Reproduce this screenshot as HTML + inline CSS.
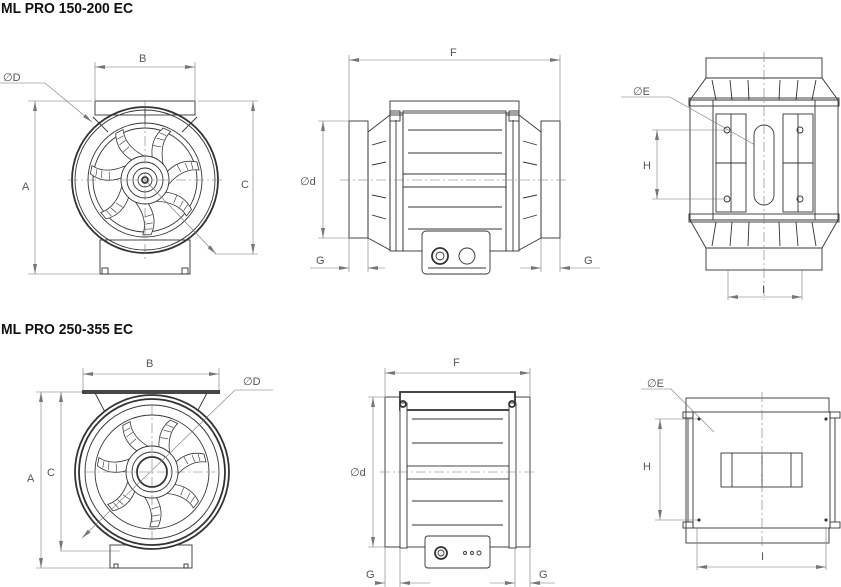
<!DOCTYPE html>
<html><head><meta charset="utf-8"><style>
html,body{margin:0;padding:0;background:#fff;}
svg{display:block;}
text{font-family:"Liberation Sans",sans-serif;fill:#555;font-size:11px;}
.h{font-family:"Liberation Sans Narrow","Liberation Sans",sans-serif;font-weight:bold;fill:#111;font-size:15px;}
.s{fill:none;stroke:#333;stroke-width:0.9;}
.t{fill:none;stroke:#333;stroke-width:1.8;}
.d{fill:none;stroke:#777;stroke-width:0.6;}
.c{fill:none;stroke:#777;stroke-width:0.6;stroke-dasharray:10 3 2 3;}
</style></head><body>
<svg width="841" height="587" viewBox="0 0 841 587" xmlns="http://www.w3.org/2000/svg">
<defs>
<marker id="a" markerWidth="10" markerHeight="6" refX="10" refY="3" orient="auto-start-reverse" markerUnits="userSpaceOnUse"><path d="M0,1 L10,3 L0,5 Z" fill="#777"/></marker>
<g id="blade"><path d="M20,-6 Q34,-22 52,-18 L54,-10 Q38,-12 24,4 Z" fill="#fff" stroke="#333" stroke-width="0.8"/><path d="M32,-15 L36,-8 M40,-17 L43,-10 M46,-18 L48,-11" stroke="#333" stroke-width="0.6"/></g>
</defs>
<text class="h" x="1" y="13" textLength="132" lengthAdjust="spacingAndGlyphs">ML PRO 150-200 EC</text>
<text class="h" x="1" y="334" textLength="132" lengthAdjust="spacingAndGlyphs">ML PRO 250-355 EC</text>

<!-- ===== TOP LEFT ===== -->
<g>
<rect class="s" x="95" y="101" width="100" height="14"/>
<rect class="s" x="100" y="240" width="90" height="34"/>
<rect class="s" x="102" y="268" width="6" height="6"/><rect class="s" x="182" y="268" width="6" height="6"/>
<circle class="t" cx="145" cy="180" r="73"/>
<circle class="s" cx="145" cy="180" r="70"/>
<circle class="s" cx="145" cy="180" r="57"/>
<circle class="s" cx="145" cy="180" r="52"/>
<g transform="translate(145,180)">
<use href="#blade"/><use href="#blade" transform="rotate(51.4)"/><use href="#blade" transform="rotate(102.8)"/><use href="#blade" transform="rotate(154.2)"/><use href="#blade" transform="rotate(205.6)"/><use href="#blade" transform="rotate(257)"/><use href="#blade" transform="rotate(308.4)"/>
</g>
<circle class="s" cx="145" cy="180" r="24" style="fill:#fff"/>
<circle class="s" cx="145" cy="180" r="18"/><circle class="s" cx="145" cy="180" r="12"/><circle class="s" cx="145" cy="180" r="7"/><circle class="t" cx="145" cy="180" r="3"/>
<line class="s" x1="93" y1="117" x2="108" y2="132"/><line class="s" x1="197" y1="117" x2="182" y2="132"/>
<line class="s" x1="145" y1="107" x2="145" y2="125"/>
<line class="c" x1="68" y1="180" x2="222" y2="180"/><line class="c" x1="145" y1="100" x2="145" y2="260"/>
<line class="d" x1="95" y1="62" x2="95" y2="100"/><line class="d" x1="195" y1="62" x2="195" y2="100"/>
<line class="d" x1="95" y1="67" x2="195" y2="67" marker-start="url(#a)" marker-end="url(#a)"/>
<text x="139" y="62">B</text>
<line class="d" x1="28" y1="101" x2="92" y2="101"/><line class="d" x1="28" y1="274" x2="100" y2="274"/>
<line class="d" x1="35" y1="101" x2="35" y2="274" marker-start="url(#a)" marker-end="url(#a)"/>
<text x="22" y="190">A</text>
<line class="d" x1="198" y1="101" x2="258" y2="101"/><line class="d" x1="215" y1="254" x2="258" y2="254"/>
<line class="d" x1="253" y1="101" x2="253" y2="254" marker-start="url(#a)" marker-end="url(#a)"/>
<text x="241" y="188">C</text>
<text x="3" y="81">∅D</text>
<polyline class="d" points="0,83 45,83 92,122" marker-end="url(#a)"/>
<line class="d" x1="145" y1="180" x2="216" y2="254" marker-end="url(#a)"/>
</g>

<!-- ===== TOP MIDDLE ===== -->
<g>
<rect class="s" x="349" y="121" width="19" height="117"/>
<rect class="s" x="541" y="121" width="19" height="117"/>
<polygon class="s" points="368,132 390,115 390,250 368,238"/>
<polygon class="s" points="541,132 519,115 519,250 541,238"/>
<rect class="s" x="390" y="101" width="129" height="12"/>
<rect class="s" x="403" y="111" width="103" height="140"/>
<rect class="s" x="390" y="115" width="13" height="136"/><rect class="s" x="506" y="115" width="13" height="136"/>
<line class="s" x1="396" y1="120" x2="396" y2="251"/><line class="s" x1="513" y1="120" x2="513" y2="251"/>
<line class="s" x1="408" y1="130" x2="502" y2="130"/><line class="s" x1="408" y1="153" x2="502" y2="153"/>
<line class="s" x1="403" y1="174" x2="506" y2="174"/><line class="s" x1="403" y1="187" x2="506" y2="187"/>
<line class="s" x1="408" y1="207" x2="502" y2="207"/><line class="s" x1="408" y1="229" x2="502" y2="229"/>
<path class="s" d="M372,145 l14,-4 M372,165 l14,-3 M372,195 l14,3 M372,215 l14,4 M523,141 l14,4 M523,162 l14,3 M523,198 l14,-3 M523,219 l14,-4"/>
<rect class="s" x="422" y="231" width="68" height="43" rx="4" style="fill:#fff"/>
<circle class="t" cx="440" cy="256" r="8"/><circle class="s" cx="440" cy="256" r="4"/>
<circle class="s" cx="467" cy="256" r="8"/>
<line class="s" x1="428" y1="268" x2="486" y2="268"/>
<rect class="s" x="390" y="111" width="10" height="10"/><rect class="s" x="509" y="111" width="10" height="10"/>
<line class="c" x1="340" y1="180" x2="568" y2="180"/>
<line class="d" x1="349" y1="55" x2="349" y2="121"/><line class="d" x1="560" y1="55" x2="560" y2="121"/>
<line class="d" x1="349" y1="60" x2="560" y2="60" marker-start="url(#a)" marker-end="url(#a)"/>
<text x="450" y="56">F</text>
<line class="d" x1="318" y1="121" x2="349" y2="121"/><line class="d" x1="318" y1="238" x2="349" y2="238"/>
<line class="d" x1="323" y1="121" x2="323" y2="238" marker-start="url(#a)" marker-end="url(#a)"/>
<text x="300" y="185">∅d</text>
<line class="d" x1="349" y1="238" x2="349" y2="272"/><line class="d" x1="368" y1="238" x2="368" y2="272"/>
<line class="d" x1="310" y1="268" x2="349" y2="268" marker-end="url(#a)"/><line class="d" x1="385" y1="268" x2="368" y2="268" marker-end="url(#a)"/>
<text x="316" y="264">G</text>
<line class="d" x1="541" y1="238" x2="541" y2="272"/><line class="d" x1="560" y1="238" x2="560" y2="272"/>
<line class="d" x1="520" y1="268" x2="541" y2="268" marker-end="url(#a)"/><line class="d" x1="600" y1="268" x2="560" y2="268" marker-end="url(#a)"/>
<text x="584" y="264">G</text>
</g>

<!-- ===== TOP RIGHT ===== -->
<g>
<rect class="s" x="706" y="58" width="116" height="20"/>
<rect class="s" x="706" y="248" width="116" height="22"/>
<polygon class="s" points="706,78 822,78 838,100 690,100"/>
<polygon class="s" points="690,220 838,220 822,248 706,248"/>
<rect class="s" x="690" y="100" width="148" height="120"/>
<rect class="s" x="689" y="98" width="150" height="8"/><rect class="s" x="689" y="214" width="150" height="8"/>
<rect class="s" x="713" y="100" width="102" height="120"/>
<rect class="s" x="716" y="114" width="30" height="98"/><rect class="s" x="783" y="114" width="30" height="98"/>
<line class="s" x1="731" y1="114" x2="731" y2="212"/><line class="s" x1="798" y1="114" x2="798" y2="212"/>
<line class="s" x1="716" y1="163" x2="746" y2="163"/><line class="s" x1="783" y1="163" x2="813" y2="163"/>
<rect class="s" x="754" y="125" width="20" height="80" rx="10"/>
<circle class="s" cx="727" cy="130" r="3"/><circle class="s" cx="800" cy="130" r="3"/><circle class="s" cx="727" cy="199" r="3"/><circle class="s" cx="800" cy="199" r="3"/>
<path class="s" d="M712,80 l4,20 M730,80 l2,20 M748,80 l1,20 M780,80 l-1,20 M798,80 l-2,20 M816,80 l-4,20 M712,246 l4,-24 M730,246 l2,-24 M748,246 l1,-24 M780,246 l-1,-24 M798,246 l-2,-24 M816,246 l-4,-24"/>
<line class="c" x1="764" y1="52" x2="764" y2="300"/>
<text x="633" y="95">∅E</text>
<polyline class="d" points="621,97 670,97 755,145"/>
<line class="d" x1="652" y1="130" x2="727" y2="130"/><line class="d" x1="652" y1="199" x2="727" y2="199"/>
<line class="d" x1="657" y1="130" x2="657" y2="199" marker-start="url(#a)" marker-end="url(#a)"/>
<text x="643" y="169">H</text>
<line class="d" x1="728" y1="270" x2="728" y2="300"/><line class="d" x1="802" y1="270" x2="802" y2="300"/>
<line class="d" x1="728" y1="297" x2="802" y2="297" marker-start="url(#a)" marker-end="url(#a)"/>
<text x="762" y="293">I</text>
</g>

<!-- ===== BOTTOM LEFT ===== -->
<g>
<rect class="t" x="83" y="391" width="136" height="2"/>
<line class="s" x1="95" y1="393" x2="105" y2="412"/><line class="s" x1="207" y1="393" x2="197" y2="412"/>
<rect class="s" x="110" y="545" width="82" height="23"/>
<rect class="s" x="114" y="564" width="4" height="4"/><rect class="s" x="184" y="564" width="4" height="4"/>
<circle class="t" cx="152" cy="472" r="77" style="fill:#fff"/>
<circle class="t" cx="152" cy="472" r="73"/>
<circle class="s" cx="152" cy="472" r="67"/>
<circle class="s" cx="152" cy="472" r="57"/>
<g transform="translate(152,472)">
<use href="#blade"/><use href="#blade" transform="rotate(51.4)"/><use href="#blade" transform="rotate(102.8)"/><use href="#blade" transform="rotate(154.2)"/><use href="#blade" transform="rotate(205.6)"/><use href="#blade" transform="rotate(257)"/><use href="#blade" transform="rotate(308.4)"/>
</g>
<circle class="s" cx="152" cy="472" r="26" style="fill:#fff"/>
<circle class="s" cx="152" cy="472" r="20"/><circle class="t" cx="152" cy="472" r="15"/>
<line class="c" x1="85" y1="472" x2="215" y2="472"/><line class="c" x1="152" y1="405" x2="152" y2="540"/>
<line class="d" x1="83" y1="368" x2="83" y2="390"/><line class="d" x1="219" y1="368" x2="219" y2="390"/>
<line class="d" x1="83" y1="374" x2="219" y2="374" marker-start="url(#a)" marker-end="url(#a)"/>
<text x="146" y="367">B</text>
<line class="d" x1="36" y1="392" x2="82" y2="392"/><line class="d" x1="36" y1="568" x2="110" y2="568"/>
<line class="d" x1="41" y1="392" x2="41" y2="568" marker-start="url(#a)" marker-end="url(#a)"/>
<text x="27" y="482">A</text>
<line class="d" x1="60" y1="551" x2="120" y2="551"/>
<line class="d" x1="61" y1="392" x2="61" y2="551" marker-start="url(#a)" marker-end="url(#a)"/>
<text x="47" y="476">C</text>
<text x="243" y="385">∅D</text>
<polyline class="d" points="273,390 235,390 82,538" marker-end="url(#a)"/>
</g>

<!-- ===== BOTTOM MIDDLE ===== -->
<g>
<rect class="s" x="385" y="397" width="145" height="150"/>
<rect class="t" x="400" y="392" width="115" height="18" style="fill:#fff"/>
<rect class="s" x="400" y="403" width="7" height="145" style="fill:#fff"/><rect class="s" x="509" y="403" width="7" height="145" style="fill:#fff"/>
<circle class="t" cx="403" cy="404" r="3"/><circle class="t" cx="512" cy="404" r="3"/>
<rect class="s" x="407" y="466" width="102" height="13"/>
<line class="s" x1="412" y1="419" x2="503" y2="419"/><line class="s" x1="412" y1="443" x2="503" y2="443"/>
<line class="s" x1="412" y1="501" x2="503" y2="501"/><line class="s" x1="412" y1="525" x2="503" y2="525"/>
<rect class="s" x="425" y="536" width="65" height="32" rx="3" style="fill:#fff"/>
<circle class="t" cx="441" cy="553" r="6"/><circle class="s" cx="441" cy="553" r="3"/>
<circle class="s" cx="465" cy="553" r="1.5"/><circle class="s" cx="472" cy="553" r="1.5"/><circle class="s" cx="479" cy="553" r="2"/>
<line class="c" x1="380" y1="472" x2="535" y2="472"/>
<line class="d" x1="385" y1="368" x2="385" y2="396"/><line class="d" x1="530" y1="368" x2="530" y2="396"/>
<line class="d" x1="385" y1="373" x2="530" y2="373" marker-start="url(#a)" marker-end="url(#a)"/>
<text x="453" y="366">F</text>
<line class="d" x1="368" y1="397" x2="385" y2="397"/><line class="d" x1="368" y1="547" x2="385" y2="547"/>
<line class="d" x1="373" y1="397" x2="373" y2="547" marker-start="url(#a)" marker-end="url(#a)"/>
<text x="350" y="476">∅d</text>
<line class="d" x1="385" y1="547" x2="385" y2="587"/><line class="d" x1="400" y1="548" x2="400" y2="587"/>
<line class="d" x1="375" y1="583" x2="385" y2="583" marker-end="url(#a)"/><line class="d" x1="430" y1="583" x2="400" y2="583" marker-end="url(#a)"/>
<text x="366" y="578">G</text>
<line class="d" x1="515" y1="548" x2="515" y2="587"/><line class="d" x1="530" y1="547" x2="530" y2="587"/>
<line class="d" x1="490" y1="583" x2="515" y2="583" marker-end="url(#a)"/><line class="d" x1="555" y1="583" x2="530" y2="583" marker-end="url(#a)"/>
<text x="539" y="578">G</text>
</g>

<!-- ===== BOTTOM RIGHT ===== -->
<g>
<rect class="s" x="686" y="398" width="143" height="145"/>
<rect class="s" x="693" y="412" width="137" height="116" style="fill:#fff"/>
<rect class="s" x="683" y="412" width="10" height="6"/><rect class="s" x="683" y="522" width="10" height="6"/>
<rect class="s" x="830" y="412" width="10" height="6"/><rect class="s" x="830" y="522" width="10" height="6"/>
<line class="s" x1="688" y1="418" x2="688" y2="522"/><line class="s" x1="835" y1="418" x2="835" y2="522"/>
<rect class="s" x="721" y="453" width="81" height="34"/>
<line class="s" x1="732" y1="453" x2="732" y2="487"/><line class="s" x1="791" y1="453" x2="791" y2="487"/><line class="s" x1="762" y1="453" x2="762" y2="487"/>
<path d="M697,419 l2,-2 l2,2 l-2,2z M824,419 l2,-2 l2,2 l-2,2z M697,520 l2,-2 l2,2 l-2,2z M824,520 l2,-2 l2,2 l-2,2z" fill="#333"/>
<line class="c" x1="762" y1="392" x2="762" y2="548"/>
<text x="647" y="387">∅E</text>
<polyline class="d" points="641,389 671,389 714,432"/>
<line class="d" x1="655" y1="419" x2="697" y2="419"/><line class="d" x1="655" y1="520" x2="697" y2="520"/>
<line class="d" x1="660" y1="419" x2="660" y2="520" marker-start="url(#a)" marker-end="url(#a)"/>
<text x="643" y="470">H</text>
<line class="d" x1="697" y1="528" x2="697" y2="570"/><line class="d" x1="826" y1="528" x2="826" y2="570"/>
<line class="d" x1="697" y1="567" x2="826" y2="567" marker-start="url(#a)" marker-end="url(#a)"/>
<text x="761" y="560">I</text>
</g>
</svg>
</body></html>
